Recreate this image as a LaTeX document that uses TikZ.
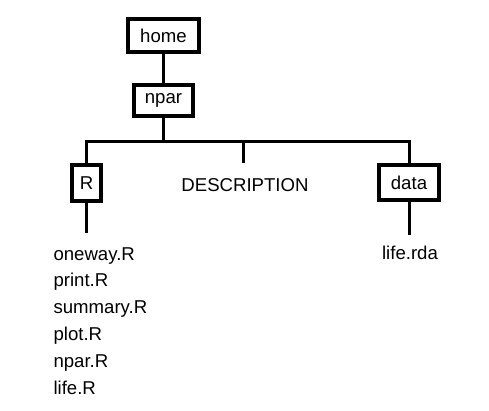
\documentclass[tikz,border=0pt]{standalone}
\usepackage{fontspec}
\setmainfont{Liberation Sans}
\begin{document}
\begin{tikzpicture}[x=1pt,y=-1pt,
    every node/.style={font=\fontsize{18.6}{22}\selectfont},
    dirbox/.style={draw, line width=4pt, inner sep=0pt},
    branch/.style={line width=3pt}]
    \useasboundingbox (0,0) rectangle (489,411);
    % directories
    \node[dirbox, minimum width=71pt, minimum height=33pt] (home) at (163.5,35.5) {home};
    \node[dirbox, minimum width=59pt, minimum height=31pt] (npar) at (163.5,100.5) {npar};
    \node[dirbox, minimum width=29pt, minimum height=36pt] (R) at (86.5,183) {R};
    \node[dirbox, minimum width=60pt, minimum height=35pt] (data) at (409,182.5) {data};
    \node[anchor=base] (desc) at (245,192) {DESCRIPTION};
    % tree lines
    \coordinate (bar) at (163.5,142);
    \coordinate (desctick) at (243,163);
    \coordinate (Rend) at (86.5,233);
    \coordinate (dataend) at (409,235);
    \draw[branch] (home) -- (npar);
    \draw[branch] (npar) -- (bar);
    \draw[branch] (R) -- (R |- bar) -- (data |- bar) -- (data);
    \draw[branch] (desctick |- bar) -- (desctick);
    \draw[branch] (R) -- (Rend);
    \draw[branch] (data) -- (dataend);
    % files
    \foreach \f [count=\i from 0] in {oneway,print,summary,plot,npar,life}
        \node[anchor=base west] (file\i) at (50,260+26.8*\i) {\f.R};
    \node[anchor=base] (rda) at (410,259) {life.rda};
\end{tikzpicture}
\end{document}
